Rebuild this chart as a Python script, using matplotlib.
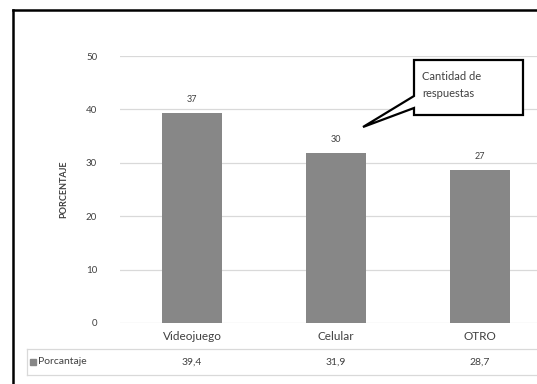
import matplotlib
matplotlib.use("Agg")
import matplotlib.pyplot as plt
from matplotlib.patches import Polygon, Rectangle
from matplotlib.lines import Line2D

categories = ["Videojuego", "Celular", "OTRO"]
porcentaje = [39.4, 31.9, 28.7]
porcentaje_txt = ["39,4", "31,9", "28,7"]
cantidad = [37, 30, 27]
yticks = [0, 10, 20, 30, 40, 50]

plt.rcParams["font.family"] = ["Lato", "DejaVu Sans"]

W, H = 537, 384
fig = plt.figure(figsize=(W / 100, H / 100), dpi=100)


def fx(px):
    return px / W


def fy(py):
    return 1 - py / H


# plot area: x 120..552 px, y 56 (50) .. 323 (0)
ax = fig.add_axes([fx(120), fy(323), fx(552) - fx(120), fy(56) - fy(323)])
x = range(len(categories))
ax.bar(x, porcentaje, width=0.41, color="#878787", zorder=3)
ax.set_xlim(-0.5, 2.5)
ax.set_ylim(0, 50)
ax.set_yticks(yticks)
ax.set_yticklabels([str(t) for t in yticks], fontsize=7, color="#404040")
ax.tick_params(axis="y", length=0, pad=16.5)
ax.set_xticks([])
ax.grid(axis="y", color="#d9d9d9", linewidth=0.9, zorder=0)
for s in ax.spines.values():
    s.set_visible(False)
ax.set_ylabel("PORCENTAJE", fontsize=6.5, fontweight="bold", color="#404040", labelpad=13)

for i, (v, c) in enumerate(zip(porcentaje, cantidad)):
    ax.text(i, v + 1.6, str(c), ha="center", va="bottom", fontsize=6.5, color="#404040")

# category labels and data table
for i, (cat, t) in enumerate(zip(categories, porcentaje_txt)):
    fig.text(fx(120 + 144 * (i + 0.5)), fy(337), cat, ha="center", va="center",
             fontsize=8.5, color="#404040")
    fig.text(fx(120 + 144 * (i + 0.5)), fy(362), t, ha="center", va="center",
             fontsize=7.5, color="#404040")

fig.add_artist(Rectangle((fx(30), fy(365)), fx(6), fy(359) - fy(365),
                         transform=fig.transFigure, color="#878787"))
fig.text(fx(38), fy(362), "Porcantaje", ha="left", va="center", fontsize=7.5, color="#404040")
for py in (349, 375):
    fig.add_artist(Line2D([fx(27), 1], [fy(py), fy(py)], color="#d9d9d9", lw=0.9,
                          transform=fig.transFigure))
fig.add_artist(Line2D([fx(27), fx(27)], [fy(349), fy(375)], color="#d9d9d9", lw=0.9,
                      transform=fig.transFigure))

# callout
pts = [(414, 60), (523, 60), (523, 115), (414, 115), (414, 108), (363, 127), (414, 96)]
fig.add_artist(Polygon([(fx(a), fy(b)) for a, b in pts], closed=True, transform=fig.transFigure,
                       facecolor="white", edgecolor="black", linewidth=1.6, zorder=5))
fig.text(fx(422), fy(85), "Cantidad de\nrespuestas", ha="left", va="center",
         fontsize=8, color="#404040", linespacing=1.6, zorder=6)

# outer frame
fig.add_artist(Line2D([fx(13), fx(13)], [fy(10), 0], color="black", lw=1.8, transform=fig.transFigure))
fig.add_artist(Line2D([fx(13), 1], [fy(10), fy(10)], color="black", lw=1.8, transform=fig.transFigure))

fig.savefig("out.png", dpi=100)
